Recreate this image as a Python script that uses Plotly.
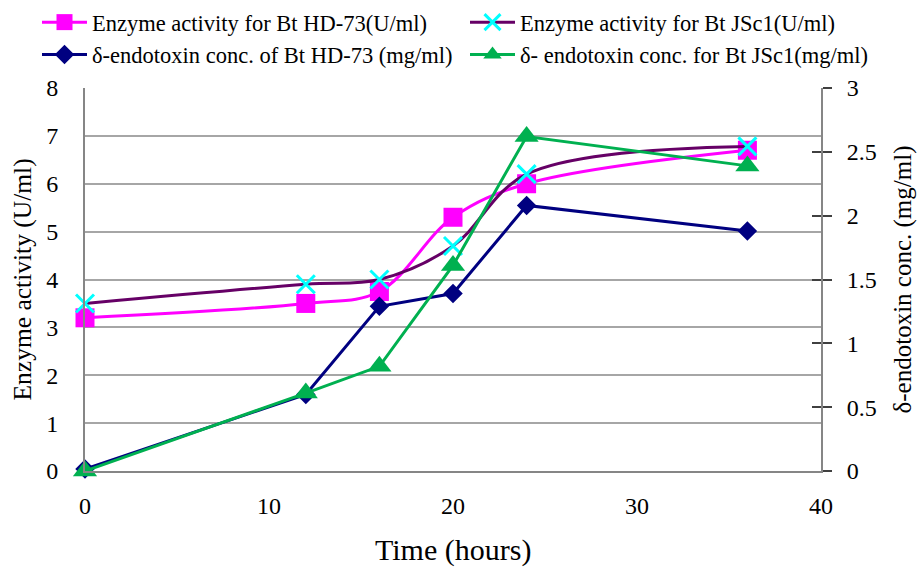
import plotly.graph_objects as go

time_h = [0, 12, 16, 20, 24, 36]
enzyme_hd73 = [3.2, 3.5, 3.75, 5.3, 6.0, 6.7]
enzyme_jsc1 = [3.5, 3.9, 4.0, 4.7, 6.2, 6.78]
toxin_hd73 = [0.015, 0.6, 1.29, 1.39, 2.08, 1.88]
toxin_jsc1 = [0.0, 0.61, 0.82, 1.61, 2.62, 2.39]

names = [
    "Enzyme activity for Bt HD-73(U/ml)",
    "Enzyme activity for Bt JSc1(U/ml)",
    "δ-endotoxin conc. of Bt HD-73 (mg/ml)",
    "δ- endotoxin conc. for Bt JSc1(mg/ml)",
]
x_title = "Time (hours)"
y_title = "Enzyme activity (U/ml)"
y2_title = "δ-endotoxin conc. (mg/ml)"

FONT = "Liberation Serif"
W, H = 917, 569
ML, MR, MT, MB = 85, 96, 88, 98
PW, PH = W - ML - MR, H - MT - MB


def px_x(px):
    return (px - ML) / PW


def px_y(py):
    return (H - MB - py) / PH


fig = go.Figure()
fig.add_trace(go.Scatter(
    x=time_h, y=enzyme_hd73, name=names[0], mode="lines+markers",
    line=dict(color="#FF00FF", width=3, shape="spline", smoothing=1),
    marker=dict(symbol="square", size=19, color="#FF00FF"),
    cliponaxis=False, yaxis="y", legend="legend"))
fig.add_trace(go.Scatter(
    x=time_h, y=enzyme_jsc1, name=names[1], mode="lines+markers",
    line=dict(color="#660066", width=3, shape="spline", smoothing=1),
    marker=dict(symbol="x-thin", size=18, color="#00FFFF",
                line=dict(color="#00FFFF", width=3)),
    cliponaxis=False, yaxis="y", legend="legend2"))
fig.add_trace(go.Scatter(
    x=time_h, y=toxin_hd73, name=names[2], mode="lines+markers",
    line=dict(color="#000080", width=3),
    marker=dict(symbol="diamond", size=15, color="#000080"),
    cliponaxis=False, yaxis="y2", legend="legend"))
fig.add_trace(go.Scatter(
    x=time_h, y=toxin_jsc1, name=names[3], mode="lines+markers",
    line=dict(color="#00B050", width=3),
    marker=dict(symbol="triangle-up", size=21, color="#00B050"),
    cliponaxis=False, yaxis="y2", legend="legend2"))
# invisible helper trace so the inner-tick axis is drawn
fig.add_trace(go.Scatter(x=[None], y=[None], yaxis="y3", showlegend=False, hoverinfo="skip"))

legend_common = dict(
    orientation="v", xref="container", yref="container",
    yanchor="top", xanchor="left",
    font=dict(family=FONT, size=22.5, color="black"),
    itemwidth=45, tracegroupgap=0, bgcolor="rgba(0,0,0,0)",
)

fig.update_layout(
    width=W, height=H,
    margin=dict(l=ML, r=MR, t=MT, b=MB, autoexpand=False),
    paper_bgcolor="white", plot_bgcolor="white",
    font=dict(family=FONT, color="black", size=24),
    showlegend=True,
    legend=dict(x=37 / W, y=1 - 1 / H, **legend_common),
    legend2=dict(x=465 / W, y=1 - 1 / H, **legend_common),
    xaxis=dict(
        range=[0, 40], dtick=10, tick0=0,
        showgrid=False, zeroline=False,
        showline=True, linecolor="#868686", linewidth=2,
        ticks="", ticklabelstandoff=12,
        tickfont=dict(family=FONT, size=24),
    ),
    yaxis=dict(
        range=[0, 8], dtick=1, tick0=0,
        showgrid=True, gridcolor="#A6A6A6", gridwidth=1.5,
        zeroline=False,
        showline=True, linecolor="#868686", linewidth=2,
        ticks="", ticklabelstandoff=20,
        tickfont=dict(family=FONT, size=24),
    ),
    yaxis2=dict(
        overlaying="y", side="right",
        range=[0, 3], dtick=0.5, tick0=0,
        showgrid=False, zeroline=False,
        showline=True, linecolor="#868686", linewidth=2,
        ticks="outside", ticklen=9, tickcolor="#404040", tickwidth=1.5,
        ticklabelstandoff=10,
        tickfont=dict(family=FONT, size=24),
    ),
    yaxis3=dict(
        overlaying="y", side="right",
        range=[0, 3], dtick=0.5, tick0=0,
        showgrid=False, zeroline=False, showline=False,
        ticks="inside", ticklen=9, tickcolor="#404040", tickwidth=1.5,
        showticklabels=False,
    ),
    annotations=[
        dict(text=x_title, xref="paper", yref="paper", x=0.5, y=px_y(550),
             xanchor="center", yanchor="middle", showarrow=False,
             font=dict(family=FONT, size=30, color="black")),
        dict(text=y_title, xref="paper", yref="paper", x=px_x(22), y=0.5,
             xanchor="center", yanchor="middle", textangle=-90, showarrow=False,
             font=dict(family=FONT, size=25.5, color="black")),
        dict(text=y2_title, xref="paper", yref="paper", x=px_x(902), y=0.5,
             xanchor="center", yanchor="middle", textangle=-90, showarrow=False,
             font=dict(family=FONT, size=25, color="black")),
    ],
)

fig.write_html("out.html")
